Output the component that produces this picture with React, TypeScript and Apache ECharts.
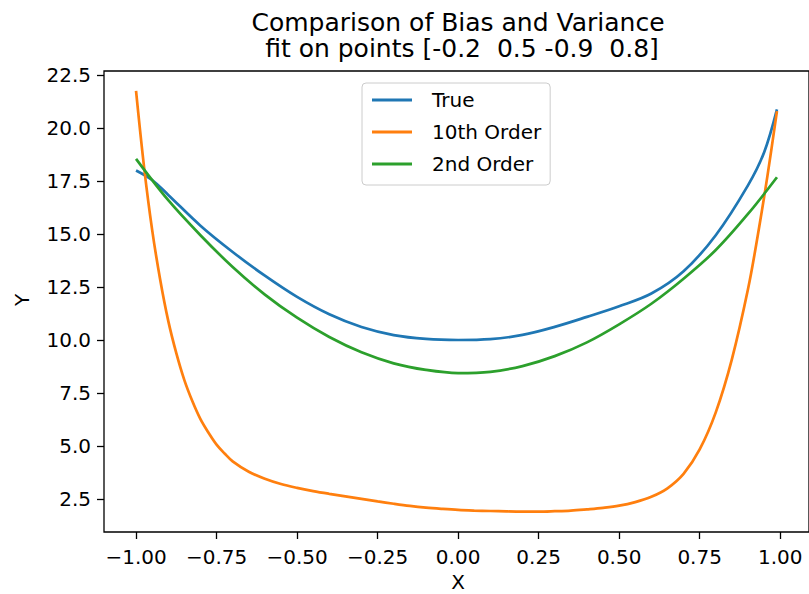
import React, { useEffect, useRef } from "react";
import * as echarts from "echarts";

const trueX = [-1.0, -0.95, -0.9, -0.8, -0.7, -0.6, -0.5, -0.4, -0.3, -0.2, -0.1, 0.0, 0.1, 0.2, 0.3, 0.4, 0.5, 0.6, 0.7, 0.8, 0.9, 0.95, 0.99];
const trueY = [18.0, 17.55, 16.85, 15.4, 14.16, 13.04, 12.04, 11.22, 10.62, 10.24, 10.06, 10.01, 10.05, 10.25, 10.63, 11.1, 11.6, 12.2, 13.25, 14.95, 17.3, 18.85, 20.88];

const order10X = [-1.0, -0.975, -0.95, -0.925, -0.9, -0.875, -0.85, -0.825, -0.8, -0.775, -0.75, -0.725, -0.7, -0.65, -0.6, -0.55, -0.5, -0.45, -0.4, -0.35, -0.3, -0.25, -0.2, -0.15, -0.1, -0.05, 0.0, 0.05, 0.1, 0.15, 0.2, 0.25, 0.3, 0.35, 0.4, 0.45, 0.5, 0.55, 0.6, 0.65, 0.7, 0.75, 0.8, 0.85, 0.9, 0.93, 0.96, 0.99];
const order10Y = [21.75, 18.15, 15.2, 12.85, 10.91, 9.39, 8.12, 7.12, 6.28, 5.64, 5.08, 4.66, 4.29, 3.8, 3.47, 3.22, 3.04, 2.89, 2.76, 2.64, 2.52, 2.4, 2.29, 2.19, 2.11, 2.05, 2.0, 1.97, 1.95, 1.93, 1.92, 1.92, 1.94, 1.97, 2.03, 2.1, 2.2, 2.37, 2.62, 3.02, 3.7, 4.85, 6.6, 9.1, 12.4, 14.9, 17.7, 20.8];

const order2X = [-1.0, -0.9, -0.8, -0.7, -0.6, -0.5, -0.4, -0.3, -0.2, -0.1, 0.0, 0.1, 0.2, 0.3, 0.4, 0.5, 0.6, 0.7, 0.8, 0.9, 0.99];
const order2Y = [18.55, 16.6, 14.95, 13.45, 12.15, 11.06, 10.15, 9.43, 8.91, 8.6, 8.45, 8.51, 8.78, 9.25, 9.9, 10.75, 11.72, 12.9, 14.25, 15.95, 17.68];

const xTicks = [-1, -0.75, -0.5, -0.25, 0, 0.25, 0.5, 0.75, 1];
const yTicks = [2.5, 5, 7.5, 10, 12.5, 15, 17.5, 20, 22.5];

const seriesNames = ["True", "10th Order", "2nd Order"];
const seriesColors = ["#1f77b4", "#ff7f0e", "#2ca02c"];

const titleLine1 = "Comparison of Bias and Variance";
const titleLine2 = " fit on points [-0.2  0.5 -0.9  0.8]";

const zip = (xs: number[], ys: number[]) => xs.map((x, i) => [x, ys[i]]);
const fmt = (v: number, d: number) => v.toFixed(d).replace("-", "\u2212");

export default function App() {
  const ref = useRef<HTMLDivElement>(null);
  useEffect(() => {
    const chart = echarts.init(ref.current!, null, { renderer: "svg" });
    const font = "DejaVu Sans";
    const mk = (i: number, data: number[][]) => ({
      name: seriesNames[i],
      type: "line",
      data,
      showSymbol: false,
      smooth: 0.35,
      silent: true,
      color: seriesColors[i],
      lineStyle: { width: 2.7, color: seriesColors[i] },
      emphasis: { disabled: true },
    });
    chart.setOption({
      animation: false,
      backgroundColor: "#ffffff",
      textStyle: { fontFamily: font },
      title: {
        text: titleLine1,
        subtext: titleLine2,
        left: 458,
        top: 9,
        textAlign: "center",
        padding: 0,
        itemGap: 0,
        textStyle: { fontFamily: font, fontSize: 25, fontWeight: "normal", color: "#000", lineHeight: 26 },
        subtextStyle: { fontFamily: font, fontSize: 25, fontWeight: "normal", color: "#000", lineHeight: 26 },
      },
      grid: {
        left: 104,
        top: 71,
        width: 709,
        height: 461,
        show: true,
        borderColor: "#000",
        borderWidth: 1.3,
        backgroundColor: "transparent",
      },
      legend: {
        data: seriesNames,
        orient: "vertical",
        left: 362,
        top: 83,
        padding: [7, 9, 11, 10],
        itemGap: 12,
        itemWidth: 40,
        itemHeight: 3,
        icon: "rect",
        backgroundColor: "rgba(255,255,255,0.8)",
        borderColor: "#cccccc",
        borderWidth: 1,
        borderRadius: 4,
        selectedMode: false,
        textStyle: { fontFamily: font, fontSize: 20, color: "#000", lineHeight: 20, padding: [0, 0, 0, 15] },
      },
      xAxis: {
        type: "value",
        min: -1.0995,
        max: 1.0895,
        axisLine: { show: false, onZero: false },
        axisTick: { show: true, length: 7, customValues: xTicks, lineStyle: { color: "#000", width: 1.3 } },
        axisLabel: {
          customValues: xTicks,
          formatter: (v: number) => fmt(v, 2),
          fontFamily: font,
          fontSize: 20,
          color: "#000",
          margin: 15,
        },
        splitLine: { show: false },
      },
      yAxis: {
        type: "value",
        min: 0.96,
        max: 22.69,
        axisLine: { show: false, onZero: false },
        axisTick: { show: true, length: 7, customValues: yTicks, lineStyle: { color: "#000", width: 1.3 } },
        axisLabel: {
          customValues: yTicks,
          formatter: (v: number) => fmt(v, 1),
          fontFamily: font,
          fontSize: 20,
          color: "#000",
          margin: 13,
        },
        splitLine: { show: false },
      },
      graphic: [
        {
          type: "text",
          x: 458,
          y: 582,
          style: { text: "X", fontFamily: font, fontSize: 20, fill: "#000", align: "center", verticalAlign: "middle" },
        },
        {
          type: "text",
          x: 22,
          y: 300,
          rotation: Math.PI / 2,
          style: { text: "Y", fontFamily: font, fontSize: 20, fill: "#000", align: "center", verticalAlign: "middle" },
        },
      ],
      series: [mk(0, zip(trueX, trueY)), mk(1, zip(order10X, order10Y)), mk(2, zip(order2X, order2Y))],
    });
    return () => chart.dispose();
  }, []);
  return (
    <div
      ref={ref}
      style={{ position: "absolute", left: 0, top: 0, width: 809, height: 594, background: "#fff" }}
    />
  );
}
